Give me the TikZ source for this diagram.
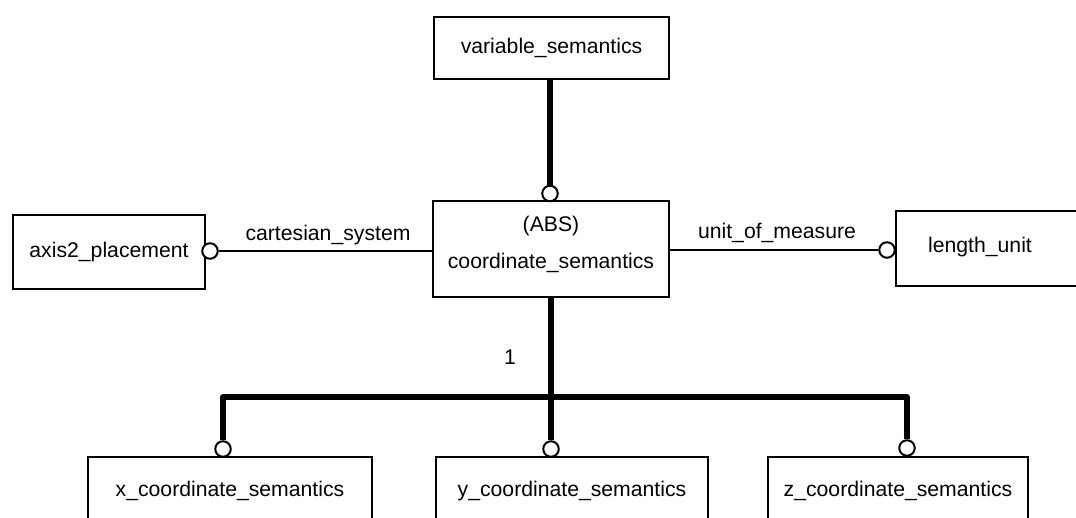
\documentclass[tikz,border=0pt]{standalone}
\usepackage{fontspec}
\setmainfont{Liberation Sans}
\begin{document}
\begin{tikzpicture}[x=1pt,y=-1pt,
  every node/.style={font=\fontsize{21.2}{37}\selectfont},
  box/.style={draw=black,line width=2.2pt,fill=white,inner sep=0pt,align=center},
  circ/.style={draw=black,line width=2pt,fill=white,circle,inner sep=0pt,minimum size=15.5pt},
  thin/.style={line width=2pt},
  thick/.style={line width=5.5pt,line join=round}]
\clip (0,0) rectangle (1076,518);
\fill[white] (0,0) rectangle (1076,518);
% boxes
\node[box,minimum width=235pt,minimum height=62pt] (var) at (551.5,48) {variable\_semantics};
\node[box,minimum width=236pt,minimum height=96pt] (coord) at (551,249) {};
\node[align=center] (coordtxt) at (551,244.5) {(ABS)\\coordinate\_semantics};
\node[box,minimum width=192pt,minimum height=74pt] (axis) at (109,252) {axis2\_placement};
\node[box,minimum width=200pt,minimum height=75pt,anchor=west] (lu) at (895,248.5) {};
\node (lutxt) at (980,247) {length\_unit};
\node[box,minimum width=284pt,minimum height=68pt,anchor=north] (xs) at (230,456) {x\_coordinate\_semantics};
\node[box,minimum width=272pt,minimum height=68pt,anchor=north] (ys) at (572,456) {y\_coordinate\_semantics};
\node[box,minimum width=260pt,minimum height=68pt,anchor=north] (zs) at (898,456) {z\_coordinate\_semantics};
% circles
\node[circ] (cv) at (550,193.5) {};
\node[circ] (ca) at (210,251) {};
\node[circ] (cl) at (887,250) {};
\node[circ] (cx) at (223,449) {};
\node[circ] (cy) at (551,449) {};
\node[circ] (cz) at (907,448) {};
% connectors
\draw[thick] (var.south -| cv) -- (cv.north);
\draw[thin] (coord.west |- ca) -- (ca.east);
\draw[thin] (coord.east |- cl) -- (cl.west);
\coordinate (bar) at (551,397);
\draw[thick] (coord.south -| cy) -- (cy.north);
\draw[thick] (cx.north) -- (cx |- bar) -- (cz |- bar) -- (cz.north);
% labels
\node (l1) at (328,235) {cartesian\_system};
\node (l2) at (777,233) {unit\_of\_measure};
\node (l3) at (510,357) {1};
\end{tikzpicture}
\end{document}
